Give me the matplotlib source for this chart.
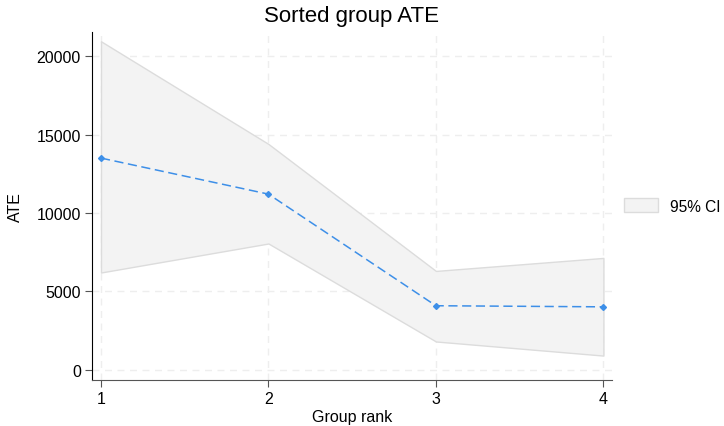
import matplotlib
matplotlib.use("Agg")
import matplotlib.pyplot as plt
from matplotlib.patches import Patch

plt.rcParams["font.family"] = ["Liberation Sans", "DejaVu Sans"]

groups = [1, 2, 3, 4]
ate = [13500, 11200, 4080, 4010]
ci_low = [6200, 8050, 1800, 900]
ci_high = [20950, 14400, 6300, 7130]

fig = plt.figure(figsize=(7.24, 4.27), dpi=100)
ax = fig.add_axes([0.127, 0.108, 0.718, 0.815])

ax.fill_between(groups, ci_low, ci_high, facecolor="#f3f3f3", edgecolor="#dcdcdc", linewidth=1, zorder=2)
ax.plot(groups, ate, linestyle=(0, (6, 3)), color="#3d8fe8", linewidth=1.1,
        marker="D", markersize=3, zorder=3)

ax.set_xlim(0.946, 4.05)
ax.set_ylim(-650, 21550)
ax.set_xticks(groups)
ax.set_yticks([0, 5000, 10000, 15000, 20000])
ax.grid(True, linestyle=(0, (5, 4)), color="#eeeeee", linewidth=1, zorder=0)
ax.set_axisbelow(True)
for s in ["top", "right"]:
    ax.spines[s].set_visible(False)
ax.spines["left"].set_color("#000000")
ax.spines["bottom"].set_color("#555555")
ax.tick_params(labelsize=11.5, length=5, color="#555555", pad=3)
ax.set_xlabel("Group rank", fontsize=11.5, labelpad=2)
ax.set_ylabel("ATE", fontsize=11.5, labelpad=10)
ax.set_title("Sorted group ATE", fontsize=16, pad=8)

handle = Patch(facecolor="#f3f3f3", edgecolor="#dcdcdc", label="95% CI")
fig.legend(handles=[handle], loc="center left", bbox_to_anchor=(0.862, 0.515),
           frameon=False, fontsize=11.2, handlelength=2.2, handleheight=1.0,
           handletextpad=0.72, borderpad=0, borderaxespad=0)

fig.savefig("out.png", dpi=100)
